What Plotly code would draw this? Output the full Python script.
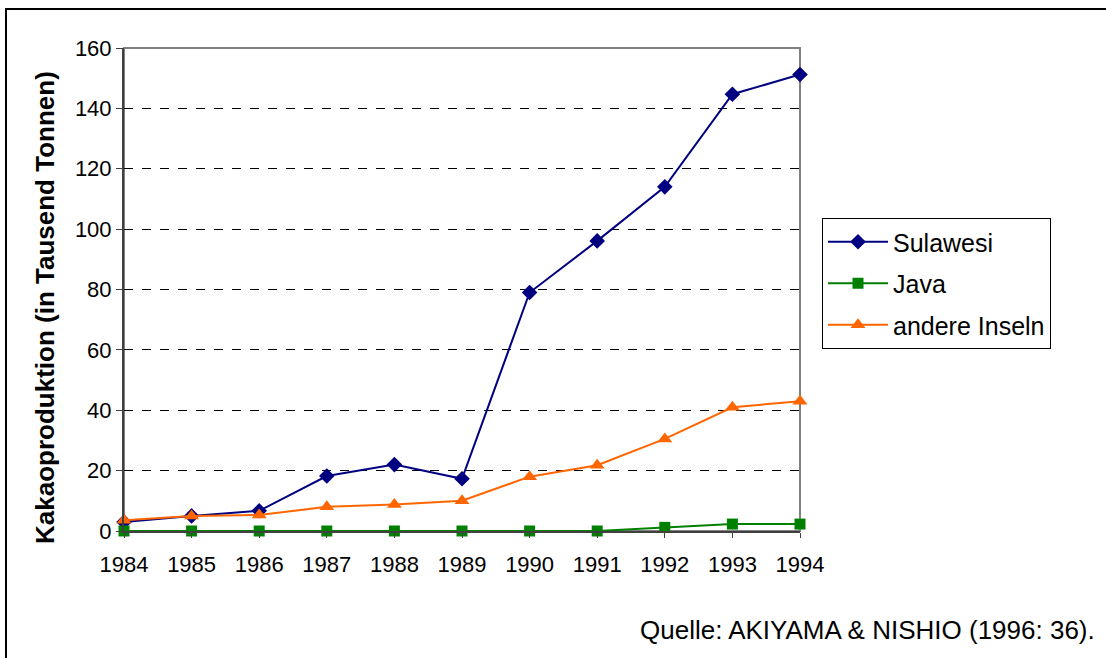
import plotly.graph_objects as go

# Kakaoproduktion in Indonesien nach Regionen (Tausend Tonnen)
years = [1984, 1985, 1986, 1987, 1988, 1989, 1990, 1991, 1992, 1993, 1994]
sulawesi = [3, 5, 6.7, 18.2, 22, 17.3, 79, 96.1, 114, 144.7, 151.2]
java = [0, 0, 0, 0, 0, 0, 0, 0, 1.2, 2.3, 2.3]
andere_inseln = [3.6, 5, 5.3, 8, 8.8, 10, 18, 21.8, 30.5, 41, 43]

y_ticks = [0, 20, 40, 60, 80, 100, 120, 140, 160]

FONT = "Liberation Sans, Arial, sans-serif"

fig = go.Figure()
series = [
    ("Sulawesi", sulawesi, "#000080", "diamond", 12),
    ("Java", java, "#008000", "square", 11),
    ("andere Inseln", andere_inseln, "#FF6600", "triangle-up", 13),
]
for i, (name, vals, color, symbol, size) in enumerate(series):
    fig.add_trace(go.Scatter(
        x=years, y=vals, name=name, mode="lines+markers",
        line=dict(color=color, width=2),
        marker=dict(symbol=symbol, size=size, color=color),
        cliponaxis=False, legendgroup=f"g{i}",
    ))

W, H = 1106, 658
L, R, T, B = 124, 306, 48, 127
pw, ph = W - L - R, H - T - B


def px_x(p):
    return (p - L) / pw


def px_y(p):
    return (H - B - p) / ph


fig.update_layout(
    width=W, height=H,
    margin=dict(l=L, r=R, t=T, b=B),
    paper_bgcolor="white", plot_bgcolor="white",
    font=dict(family=FONT, size=22, color="black"),
    showlegend=True,
    legend=dict(
        x=px_x(822), y=px_y(218), xanchor="left", yanchor="top",
        bordercolor="black", borderwidth=1, bgcolor="white",
        font=dict(size=25, family=FONT), tracegroupgap=6,
        itemwidth=60,
    ),
    xaxis=dict(
        range=[1984, 1994], tickvals=years, ticktext=[str(y) for y in years],
        showgrid=False, zeroline=False, showline=True, linecolor="#404040",
        linewidth=2, ticks="outside", ticklen=5, tickcolor="#404040",
        tickfont=dict(size=22), ticklabelstandoff=8,
    ),
    yaxis=dict(
        range=[0, 160], tickvals=y_ticks,
        showgrid=True, gridcolor="black", gridwidth=1, griddash="dash",
        zeroline=False, showline=True, linecolor="#404040", linewidth=2,
        ticks="outside", ticklen=6, tickcolor="#404040",
        tickfont=dict(size=22),
    ),
    shapes=[
        # Rahmen des Diagrammbereichs (oben/rechts grau)
        dict(type="rect", xref="paper", yref="paper", x0=0, y0=0, x1=1, y1=1,
             line=dict(color="#808080", width=2), layer="below"),
        # äußerer Rahmen
        dict(type="rect", xref="paper", yref="paper",
             x0=px_x(6), y0=px_y(664), x1=px_x(1112), y1=px_y(9),
             line=dict(color="black", width=2)),
    ],
    annotations=[
        dict(text="<b>Kakaoproduktion (in Tausend Tonnen)</b>", textangle=-90,
             xref="paper", yref="paper", x=px_x(45), y=px_y(308),
             xanchor="center", yanchor="middle", showarrow=False,
             font=dict(size=26, family=FONT)),
        dict(text="Quelle: AKIYAMA & NISHIO (1996: 36).",
             xref="paper", yref="paper", x=px_x(1097), y=px_y(630),
             xanchor="right", yanchor="middle", showarrow=False,
             font=dict(size=26, family=FONT)),
    ],
)

fig.write_html("out.html")
